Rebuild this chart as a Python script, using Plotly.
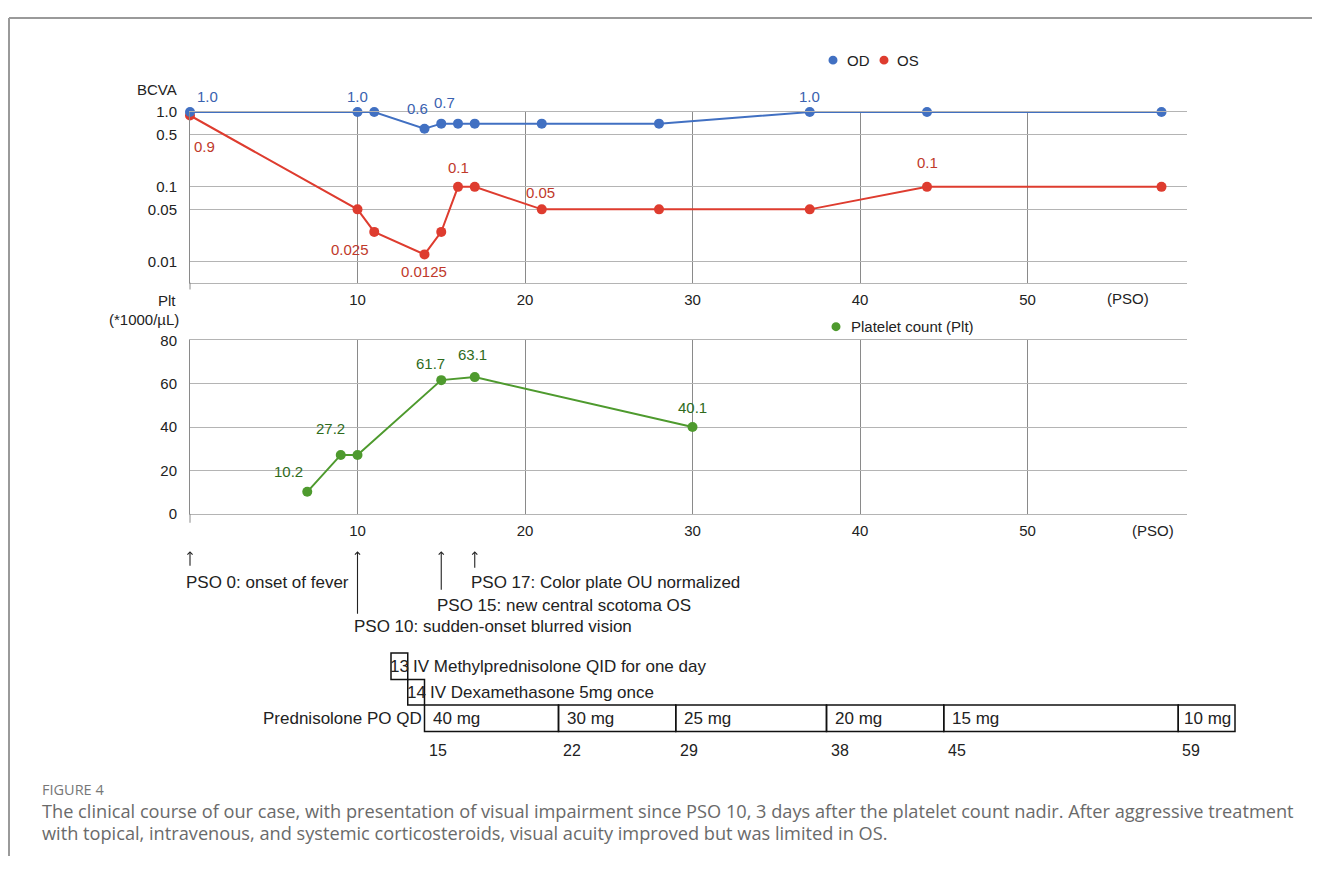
import math
import plotly.graph_objects as go

# ---------------- data ----------------
days_va = [0, 10, 11, 14, 15, 16, 17, 21, 28, 37, 44, 58]
od_va = [1.0, 1.0, 1.0, 0.6, 0.7, 0.7, 0.7, 0.7, 0.7, 1.0, 1.0, 1.0]
os_va = [0.9, 0.05, 0.025, 0.0125, 0.025, 0.1, 0.1, 0.05, 0.05, 0.05, 0.1, 0.1]
od_labels = ["1.0", "1.0", None, "0.6", "0.7", None, None, None, None, "1.0", None, None]
os_labels = ["0.9", None, "0.025", "0.0125", None, "0.1", None, "0.05", None, None, "0.1", None]

days_plt = [7, 9, 10, 15, 17, 30]
plt_vals = [10.2, 27.2, 27.2, 61.7, 63.1, 40.1]
plt_labels = ["10.2", "27.2", None, "61.7", "63.1", "40.1"]

x_ticks = [10, 20, 30, 40, 50]
va_ticks = [1.0, 0.5, 0.1, 0.05, 0.01]
va_ticktext = ["1.0", "0.5", "0.1", "0.05", "0.01"]
plt_ticks = [0, 20, 40, 60, 80]

event_days = [0, 10, 15, 17]
event_text = ["PSO 0: onset of fever",
              "PSO 10: sudden-onset blurred vision",
              "PSO 15: new central scotoma OS",
              "PSO 17: Color plate OU normalized"]

iv_days = [13, 14]
iv_text = ["IV Methylprednisolone QID for one day", "IV Dexamethasone 5mg once"]
dose_days = [15, 22, 29, 38, 45, 59]
dose_text = ["40 mg", "30 mg", "25 mg", "20 mg", "15 mg", "10 mg"]

caption_head = "FIGURE 4"
caption_lines = [
    "The clinical course of our case, with presentation of visual impairment since PSO 10, 3 days after the platelet count nadir. After aggressive treatment",
    "with topical, intravenous, and systemic corticosteroids, visual acuity improved but was limited in OS.",
]

# ---------------- style ----------------
PAGE_W, PAGE_H = 1320, 872
OFF = 8  # browser body margin
W, H = PAGE_W - 2 * OFF, PAGE_H - 2 * OFF
FONT = "Liberation Sans, Arial, sans-serif"
BLUE, BLUE_T = "#4170c2", "#3a62b0"
RED, RED_T = "#de3c2f", "#c0392b"
GREEN, GREEN_T = "#4e9a2e", "#2f6b1c"
HGRID = "#b4b4b4"
VGRID = "#8a8a8a"
TXT = "#222222"


def px(p):
    return (p - OFF) / W


def py(p):
    return 1 - (p - OFF) / H


X0, X1 = 190, 1187
PPD = 16.75  # pixels per day
XMAX = (X1 - X0) / PPD
LOGMIN = -(279 - 105) / 76.3


def day_paper(d):
    # same linear mapping as the shared x axes (range [0, XMAX] over the domain)
    return px(X0 + d * PPD)


od_off = {0: (17, 16), 1: (0, 16), 3: (-7, 20), 4: (3, 21), 9: (0, 16)}
os_off = {0: (14, -31), 2: (-24, -18), 3: (-1, -17), 5: (0, 19), 7: (-1, 17), 10: (0, 24)}
plt_off = {0: (-19, 20), 1: (-10, 26), 3: (-11, 17), 4: (-2, 23), 5: (0, 19)}

fig = go.Figure()
fig.add_trace(go.Scatter(x=days_va, y=os_va, mode="lines+markers", name="OS",
                         line=dict(color=RED, width=2), marker=dict(size=10, color=RED),
                         cliponaxis=False, xaxis="x", yaxis="y", hoverinfo="skip"))
fig.add_trace(go.Scatter(x=days_va, y=od_va, mode="lines+markers", name="OD",
                         line=dict(color=BLUE, width=2), marker=dict(size=10, color=BLUE),
                         cliponaxis=False, xaxis="x", yaxis="y", hoverinfo="skip"))
fig.add_trace(go.Scatter(x=days_plt, y=plt_vals, mode="lines+markers", name="Platelet count (Plt)",
                         line=dict(color=GREEN, width=2), marker=dict(size=10, color=GREEN),
                         cliponaxis=False, xaxis="x2", yaxis="y2", hoverinfo="skip"))

ann = []
shapes = []


def data_labels(xs, ys, labels, offs, color, xref, yref, log=False):
    for i, (xv, yv, lab) in enumerate(zip(xs, ys, labels)):
        if lab is None:
            continue
        dx, dy = offs.get(i, (0, 16))
        ann.append(dict(x=xv, y=math.log10(yv) if log else yv, xref=xref, yref=yref, text=lab,
                        showarrow=False, xshift=dx, yshift=dy, xanchor="center", yanchor="middle",
                        font=dict(family=FONT, size=15, color=color)))


data_labels(days_va, od_va, od_labels, od_off, BLUE_T, "x", "y", log=True)
data_labels(days_va, os_va, os_labels, os_off, RED_T, "x", "y", log=True)
data_labels(days_plt, plt_vals, plt_labels, plt_off, GREEN_T, "x2", "y2")


def txt(x, y, s, xanchor="left", size=15, color=TXT, xref="paper", family=FONT, xshift=0):
    ann.append(dict(x=x, y=py(y), xref=xref, yref="paper", text=s, showarrow=False,
                    xanchor=xanchor, yanchor="middle", xshift=xshift,
                    font=dict(family=family, size=size, color=color)))


# axis titles
txt(px(179), 82, "BCVA", "right")
txt(px(178), 297, "Plt", "right")
txt(px(181), 317, "(*1000/µL)", "right")
txt(56.0, 295, "(PSO)", "center", xref="x")
txt(57.5, 532, "(PSO)", "center", xref="x2")

# legends
for cx, cy, col in [(833, 52, BLUE), (884, 52, RED), (836, 324, GREEN)]:
    shapes.append(dict(type="circle", xref="paper", yref="paper", x0=px(cx - 4.5), x1=px(cx + 4.5),
                       y0=py(cy + 4.5), y1=py(cy - 4.5), fillcolor=col, line=dict(width=0)))
txt(px(845), 52, "OD")
txt(px(895), 52, "OS")
txt(px(849), 324, "Platelet count (Plt)")

# events with arrows
EV = 17
tip = 553
ev_y = [585, 630, 608, 585]
ev_len = [16, 64, 40, 18]
for d, s, yy, ln in zip(event_days, event_text, ev_y, ev_len):
    ann.append(dict(x=d, y=py(tip), xref="x2", yref="paper", ax=0, ay=ln, axref="pixel", ayref="pixel",
                    text="", showarrow=True, arrowhead=4, arrowsize=0.9, arrowwidth=1.1,
                    arrowcolor="#222222", standoff=0))
    txt(d, yy, s, "left", size=EV, xref="x2", xshift=-6)

# treatment boxes
BOX_LINE = dict(color="#111111", width=1.5)
iv_rows = [(657, 684), (684, 710)]
for d, s, (t, b) in zip(iv_days, iv_text, iv_rows):
    shapes.append(dict(type="rect", xref="paper", yref="paper", x0=day_paper(d - 1), x1=day_paper(d),
                       y0=py(b), y1=py(t), line=BOX_LINE))
    txt(day_paper(d - 0.5), (t + b) / 2, str(d), "center", size=EV)
    txt(day_paper(d), (t + b) / 2, s, "left", size=EV, xshift=3)

pt, pb = 710, 737
END = (1235 - X0) / PPD
edges = [iv_days[-1]] + dose_days[1:] + [END]
for i, (s, lab) in enumerate(zip(dose_text, dose_days)):
    shapes.append(dict(type="rect", xref="paper", yref="paper", x0=day_paper(edges[i]),
                       x1=day_paper(edges[i + 1]), y0=py(pb), y1=py(pt), line=BOX_LINE))
    txt(day_paper(edges[i]), (pt + pb) / 2, s, "left", size=EV,
        xshift=6 if i < len(dose_text) - 1 else 4)
    txt(day_paper(edges[i]), 756, str(lab), "left", size=16, xshift=2)
txt(day_paper(edges[0]), (pt + pb) / 2, "Prednisolone PO QD", "right", size=EV, xshift=-1)

# small extension of left axis lines
shapes.append(dict(type="line", xref="paper", yref="paper", x0=day_paper(0), x1=day_paper(0),
                   y0=py(286), y1=py(279), line=dict(color=VGRID, width=1)))
shapes.append(dict(type="line", xref="paper", yref="paper", x0=day_paper(0), x1=day_paper(0),
                   y0=py(524), y1=py(515), line=dict(color=VGRID, width=1)))

# page frame
shapes.append(dict(type="line", xref="paper", yref="paper", x0=px(9), x1=1.0, y0=py(9), y1=py(9),
                   line=dict(color="#9a9a9a", width=2)))
shapes.append(dict(type="line", xref="paper", yref="paper", x0=px(9), x1=px(9), y0=py(9), y1=0,
                   line=dict(color="#9a9a9a", width=2)))

# caption
CAP = "Open Sans, Lato, sans-serif"
txt(px(40), 796, caption_head, size=14.5, color="#777777", family=CAP)
txt(px(40), 818, caption_lines[0], size=18.2, color="#6a6a6a", family=CAP)
txt(px(40), 841, caption_lines[1], size=18.2, color="#6a6a6a", family=CAP)

axis_font = dict(family=FONT, size=15, color=TXT)
xcommon = dict(range=[0, XMAX], tickvals=x_ticks, showgrid=True, gridcolor=VGRID, gridwidth=1,
               zeroline=False, showline=True, mirror=True, linecolor=HGRID, linewidth=1, ticks="",
               ticklabelstandoff=3, tickfont=axis_font, domain=[px(X0), px(X1)], fixedrange=True)
fig.update_layout(
    width=W, height=H, margin=dict(l=0, r=0, t=0, b=0),
    paper_bgcolor="white", plot_bgcolor="white", showlegend=False,
    xaxis=dict(anchor="y", **xcommon),
    xaxis2=dict(anchor="y2", **xcommon),
    yaxis=dict(anchor="x", type="log", range=[LOGMIN, 0], tickvals=va_ticks, ticktext=va_ticktext,
               domain=[py(279), py(105)], showgrid=True, gridcolor=HGRID, zeroline=False,
               showline=True, linecolor=VGRID, ticks="", ticklabelstandoff=9, tickfont=axis_font),
    yaxis2=dict(anchor="x2", range=[0, 80], tickvals=plt_ticks, domain=[py(515), py(338)],
                showgrid=True, gridcolor=HGRID, zeroline=False, showline=True, linecolor=VGRID,
                ticks="", ticklabelstandoff=9, tickfont=axis_font),
    annotations=ann, shapes=shapes,
)

fig.write_html("out.html")
